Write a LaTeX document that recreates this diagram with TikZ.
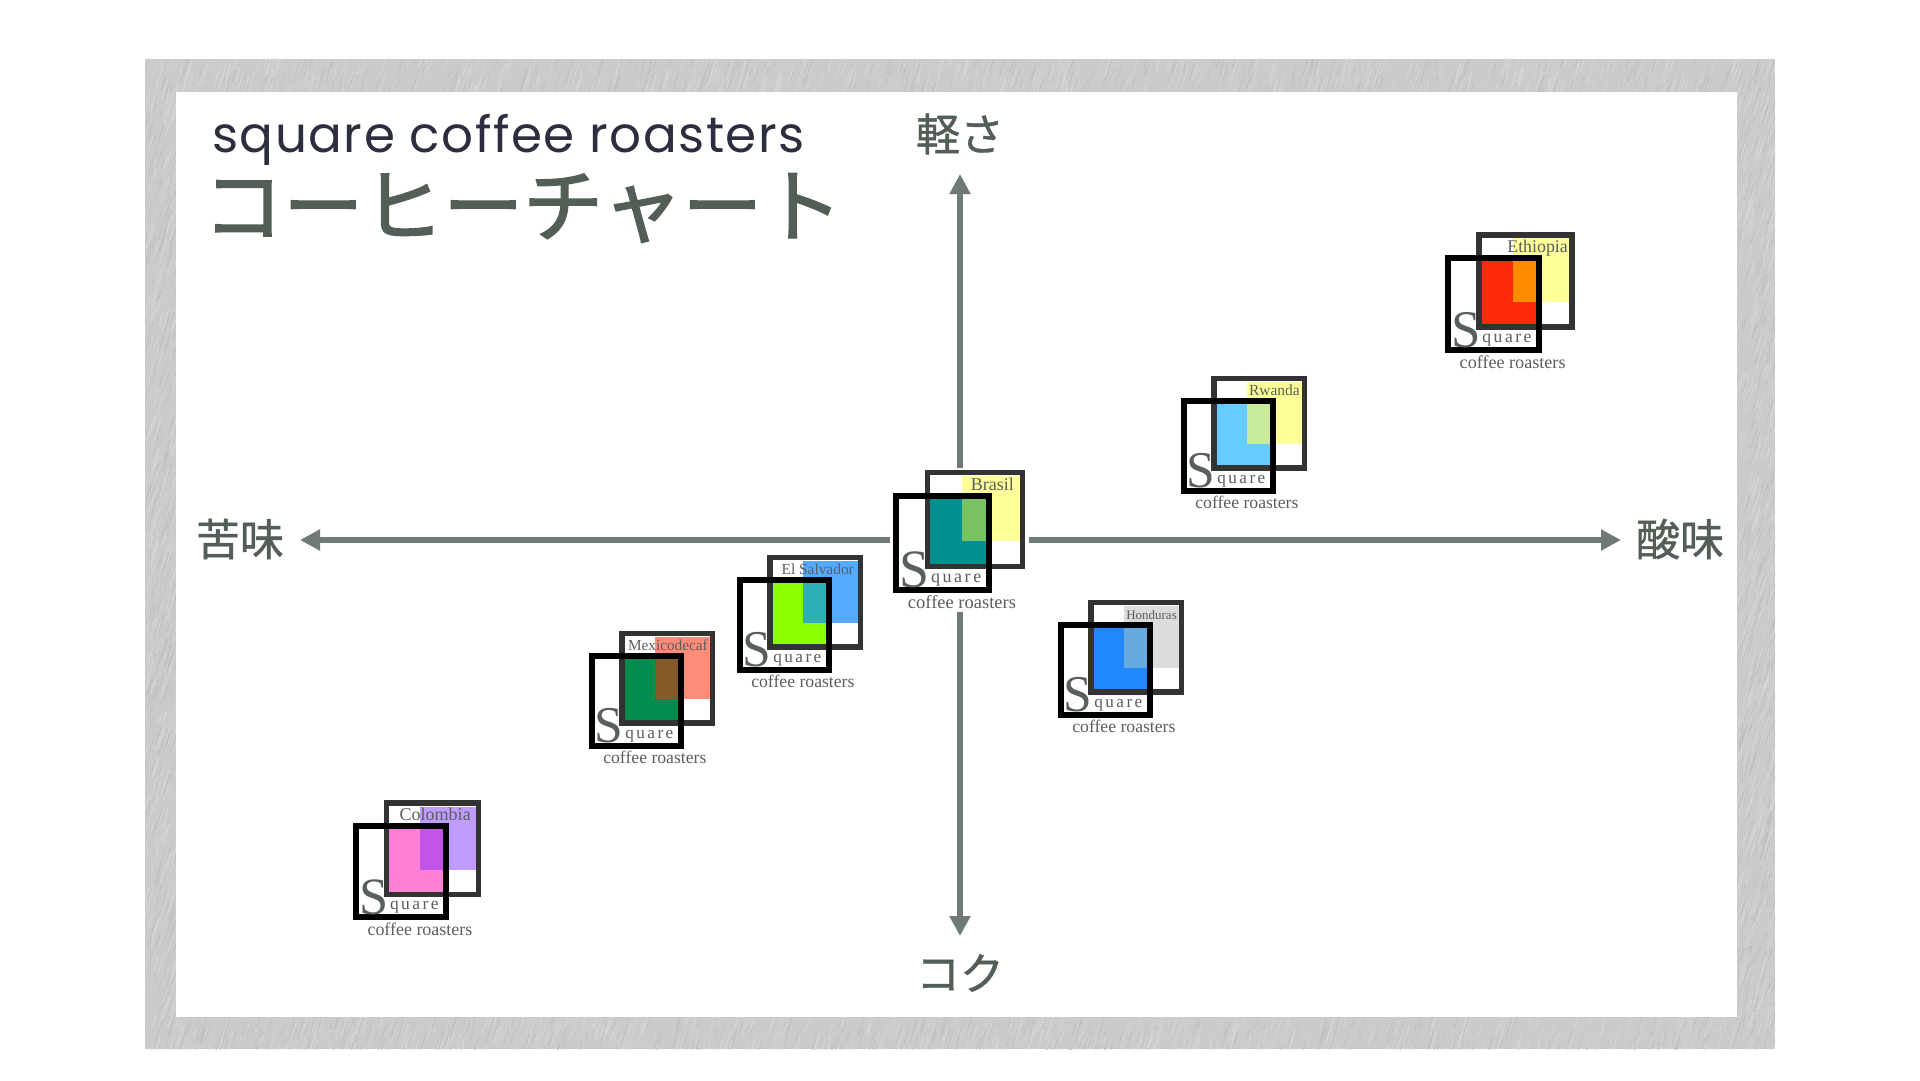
\documentclass[tikz,border=0pt]{standalone}
\usepackage{fontspec}
\usepackage{tikz}
\usetikzlibrary{arrows.meta,calc}
\setmainfont{Liberation Serif}
\newfontfamily\titlefont[LetterSpace=3]{Poppins}
\newfontfamily\jpfont[FakeBold=1]{Noto Sans CJK JP}
\newfontfamily\chartfont[FakeBold=2]{Noto Sans CJK JP}
\newfontfamily\spacedfont[LetterSpace=14]{Liberation Serif}
\definecolor{framegray}{HTML}{CBCBCB}
\definecolor{axisgray}{HTML}{6F7A74}
\definecolor{darkgreen}{HTML}{525E56}
\definecolor{titleblue}{HTML}{2C2E40}
\definecolor{logotext}{HTML}{595F5C}
\definecolor{paleyellow}{HTML}{FFFF99}
\definecolor{teal1}{HTML}{00908F}
\definecolor{teal2}{HTML}{78C264}
\definecolor{red1}{HTML}{FF2A0C}
\definecolor{red2}{HTML}{FF8C00}
\definecolor{sky1}{HTML}{66CCFF}
\definecolor{sky2}{HTML}{C8EC9C}
\definecolor{palegray}{HTML}{DCDCDC}
\definecolor{blue1}{HTML}{2288FF}
\definecolor{blue2}{HTML}{66AAE0}
\definecolor{salmon}{HTML}{FF8C78}
\definecolor{green1}{HTML}{008C4C}
\definecolor{green2}{HTML}{865A28}
\definecolor{azure}{HTML}{55AAFF}
\definecolor{lime1}{HTML}{8CFF00}
\definecolor{lime2}{HTML}{2EB0B8}
\definecolor{lilac}{HTML}{C09CFF}
\definecolor{pink1}{HTML}{FF80D4}
\definecolor{pink2}{HTML}{C055E8}
\tikzset{
    axis/.style={line width=5.5pt, axisgray, -{Triangle[length=20pt,width=20pt]}},
    axislabel/.style={darkgreen, font=\jpfont\fontsize{44}{46}\selectfont},
    backbox/.style={draw=black!80, line width=5.5pt},
    frontbox/.style={draw=black, line width=6pt},
    logoletter/.style={logotext, inner sep=0pt, anchor=base west},
}
% id, front box corner, scale, name, name size, right end of name, three fills
\newcommand{\coffeelogo}[9]{
    \begin{scope}[shift={(#2)}, scale=#3, transform shape]
        \fill[#7] (69,-17) rectangle (127,48);
        \fill[#8] (37,5) rectangle (94,71);
        \fill[#9] (69,5) rectangle (94,48);
        \node[logotext, inner sep=0pt, anchor=base east, font=\fontsize{#5}{#5}\selectfont] (#1name) at (#6,-3) {#4};
        \draw[backbox] (34.5,-20.5) rectangle (129.5,73.5);
        \draw[frontbox] (3,3) rectangle (96,97);
        \node[logoletter, font=\fontsize{54}{54}\selectfont] (#1S) at (6,94) {S};
        \node[logoletter, font=\spacedfont\fontsize{18}{18}\selectfont] (#1quare) at (38,89) {quare};
        \node[logotext, inner sep=0pt, anchor=base, font=\fontsize{18.5}{18.5}\selectfont] (#1roast) at (69,115.5) {coffee roasters};
    \end{scope}
}

\begin{document}
\begin{tikzpicture}[x=1pt, y=-1pt]
    \useasboundingbox (0,0) rectangle (1920,1080);
    \fill[white] (0,0) rectangle (1920,1080);
    % brushed frame
    \fill[framegray] (145,59) rectangle (1775,1049);
    \begin{scope}
        \clip (145,59) rectangle (1775,1049);
        \pgfmathsetseed{11}
        \foreach \bx/\by/\bw/\bh/\bn in {145/59/1630/33/800, 145/1017/1630/32/800, 145/92/31/925/460, 1737/92/38/925/560} {
            \foreach \i in {1,...,\bn} {
                \pgfmathsetmacro{\px}{\bx+rnd*\bw}
                \pgfmathsetmacro{\py}{\by+8+rnd*(\bh+8)}
                \pgfmathsetmacro{\pl}{6+rnd*20}
                \pgfmathsetmacro{\pw}{rnd}
                \ifdim\pw pt<0.55pt
                    \draw[framegray!75!white, line width=0.7pt] (\px,\py) -- ++(0.3*\pl,-\pl);
                \else
                    \draw[framegray!93!black, line width=0.6pt] (\px,\py) -- ++(0.3*\pl,-\pl);
                \fi
            }
        }
    \end{scope}
    \fill[white] (176,92) rectangle (1737,1017);

    \node[titleblue, anchor=base west, inner sep=0pt, font=\titlefont\fontsize{50}{52}\selectfont] (title) at (212,152) {square coffee roasters};
    \node[darkgreen, anchor=west, inner sep=0pt, font=\chartfont\fontsize{80}{82}\selectfont] (chart) at (203,208) {コーヒーチャート};

    \node[axislabel] (light) at (960,134) {軽さ};
    \node[axislabel] (body) at (960,973) {コク};
    \node[axislabel] (bitter) at (240,539) {苦味};
    \node[axislabel] (acid) at (1680,539) {酸味};

    \coordinate (northfoot) at (960,468);
    \coordinate (southfoot) at (960,612);
    \coordinate (westfoot) at (890,540);
    \coordinate (eastfoot) at (1029,540);
    \coordinate (northtip) at (960,174);
    \coordinate (southtip) at (960,936);
    \coordinate (westtip) at (300,540);
    \coordinate (easttip) at (1621,540);
    \draw[axis] (northfoot) to (northtip);
    \draw[axis] (southfoot) to (southtip);
    \draw[axis] (westfoot) to (westtip);
    \draw[axis] (eastfoot) to (easttip);

    \coffeelogo{brasil}{893,493}{1}{Brasil}{18}{121}{paleyellow}{teal1}{teal2}
    \coffeelogo{ethiopia}{1445,255}{0.98}{Ethiopia}{18.2}{125.5}{paleyellow}{red1}{red2}
    \coffeelogo{rwanda}{1181,398}{0.955}{Rwanda}{16.2}{124.6}{paleyellow}{sky1}{sky2}
    \coffeelogo{honduras}{1058,622}{0.955}{Honduras}{13.6}{124.6}{palegray}{blue1}{blue2}
    \coffeelogo{mexico}{589,653}{0.955}{Mexicodecaf}{16}{124.6}{salmon}{green1}{green2}
    \coffeelogo{salvador}{737,577}{0.955}{El Salvador}{16.1}{122.5}{azure}{lime1}{lime2}
    \coffeelogo{colombia}{353,823}{0.97}{Colombia}{18.6}{121.6}{lilac}{pink1}{pink2}
\end{tikzpicture}
\end{document}
